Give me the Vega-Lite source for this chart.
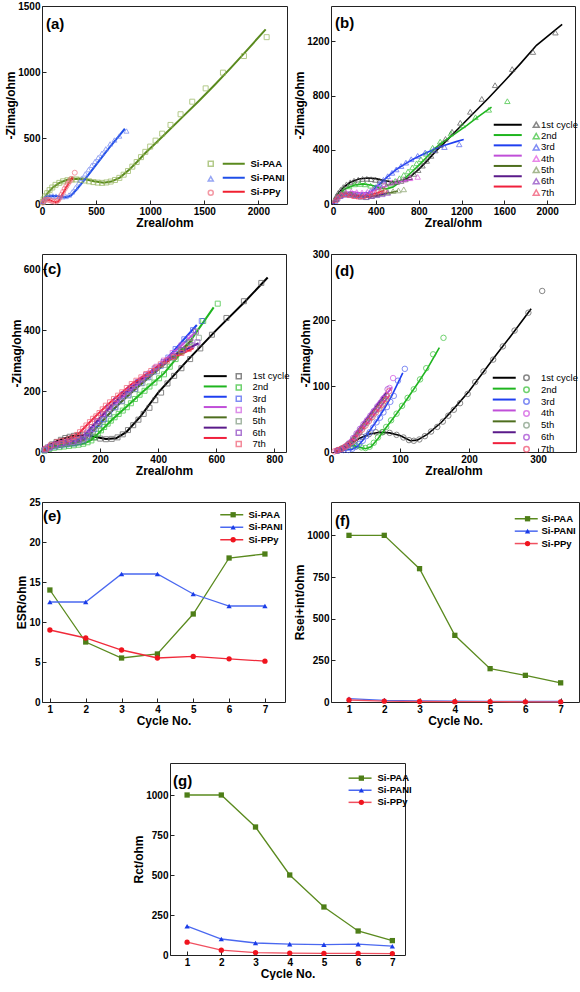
{
"$schema":"https://vega.github.io/schema/vega-lite/v6.json",
"background":"white",
"padding":{"left":4,"top":0,"right":0,"bottom":0},
"config":{
 "font":"Liberation Sans",
 "view":{"stroke":"#222","strokeWidth":1},
 "axis":{"grid":false,"domain":false,"labelFont":"Liberation Sans","labelFontWeight":"bold","labelFontSize":10,"labelColor":"#000","titleFont":"Liberation Sans","titleFontWeight":"bold","titleFontSize":12,"titleColor":"#000","tickColor":"#222","tickSize":-4,"labelPadding":6,"labelFlush":false,"labelOverlap":false,"tickCount":20,"format":"d"},
 "axisX":{"titlePadding":1},
 "axisY":{"titlePadding":0},
 "legend":{"orient":"none","title":null,"padding":0,"labelFont":"Liberation Sans","labelColor":"#000","labelFontSize":9.5},
 "title":{"anchor":"start","frame":"group","orient":"top","baseline":"top","offset":0,"fontSize":15,"fontWeight":"bold","color":"#000"}
},
"datasets":{
"aL":[
{"s":"Si-PAA","x":0,"y":0},{"s":"Si-PAA","x":20,"y":40},{"s":"Si-PAA","x":50,"y":80},{"s":"Si-PAA","x":100,"y":125},{"s":"Si-PAA","x":160,"y":160},{"s":"Si-PAA","x":240,"y":185},{"s":"Si-PAA","x":320,"y":192},{"s":"Si-PAA","x":400,"y":187},{"s":"Si-PAA","x":480,"y":172},{"s":"Si-PAA","x":571,"y":161},{"s":"Si-PAA","x":640,"y":170},{"s":"Si-PAA","x":720,"y":200},{"s":"Si-PAA","x":800,"y":255},{"s":"Si-PAA","x":880,"y":320},{"s":"Si-PAA","x":960,"y":390},{"s":"Si-PAA","x":1050,"y":460},{"s":"Si-PAA","x":1150,"y":540},{"s":"Si-PAA","x":1300,"y":660},{"s":"Si-PAA","x":1450,"y":780},{"s":"Si-PAA","x":1600,"y":905},{"s":"Si-PAA","x":1750,"y":1035},{"s":"Si-PAA","x":1900,"y":1170},{"s":"Si-PAA","x":2068,"y":1323},
{"s":"Si-PANI","x":0,"y":0},{"s":"Si-PANI","x":15,"y":35},{"s":"Si-PANI","x":40,"y":55},{"s":"Si-PANI","x":80,"y":62},{"s":"Si-PANI","x":130,"y":60},{"s":"Si-PANI","x":180,"y":54},{"s":"Si-PANI","x":230,"y":52},{"s":"Si-PANI","x":270,"y":65},{"s":"Si-PANI","x":320,"y":110},{"s":"Si-PANI","x":400,"y":190},{"s":"Si-PANI","x":480,"y":275},{"s":"Si-PANI","x":560,"y":360},{"s":"Si-PANI","x":640,"y":445},{"s":"Si-PANI","x":710,"y":515},{"s":"Si-PANI","x":766,"y":570},
{"s":"Si-PPy","x":0,"y":0},{"s":"Si-PPy","x":15,"y":22},{"s":"Si-PPy","x":40,"y":33},{"s":"Si-PPy","x":70,"y":30},{"s":"Si-PPy","x":100,"y":20},{"s":"Si-PPy","x":130,"y":14},{"s":"Si-PPy","x":150,"y":20},{"s":"Si-PPy","x":170,"y":45},{"s":"Si-PPy","x":200,"y":90},{"s":"Si-PPy","x":230,"y":135},{"s":"Si-PPy","x":260,"y":175},{"s":"Si-PPy","x":284,"y":207}
],
"aP":[
{"s":"Si-PAA","x":2077,"y":1264},{"s":"Si-PAA","x":1867,"y":1121},{"s":"Si-PAA","x":1673,"y":995},{"s":"Si-PAA","x":1513,"y":876},{"s":"Si-PAA","x":1389,"y":775},{"s":"Si-PAA","x":1281,"y":680},{"s":"Si-PAA","x":1188,"y":599},{"s":"Si-PAA","x":1111,"y":533},{"s":"Si-PAA","x":1050,"y":480},{"s":"Si-PAA","x":1000,"y":435},{"s":"Si-PAA","x":955,"y":395},{"s":"Si-PAA","x":915,"y":355},{"s":"Si-PAA","x":875,"y":318},{"s":"Si-PAA","x":835,"y":283},{"s":"Si-PAA","x":795,"y":250},{"s":"Si-PAA","x":755,"y":222},{"s":"Si-PAA","x":715,"y":198},{"s":"Si-PAA","x":675,"y":182},{"s":"Si-PAA","x":635,"y":170},{"s":"Si-PAA","x":595,"y":163},{"s":"Si-PAA","x":555,"y":160},{"s":"Si-PAA","x":515,"y":162},{"s":"Si-PAA","x":475,"y":166},{"s":"Si-PAA","x":435,"y":172},{"s":"Si-PAA","x":395,"y":178},{"s":"Si-PAA","x":355,"y":183},{"s":"Si-PAA","x":315,"y":186},{"s":"Si-PAA","x":275,"y":185},{"s":"Si-PAA","x":235,"y":180},{"s":"Si-PAA","x":195,"y":172},{"s":"Si-PAA","x":160,"y":160},{"s":"Si-PAA","x":125,"y":145},{"s":"Si-PAA","x":95,"y":125},{"s":"Si-PAA","x":70,"y":105},{"s":"Si-PAA","x":48,"y":82},{"s":"Si-PAA","x":30,"y":58},{"s":"Si-PAA","x":16,"y":35},{"s":"Si-PAA","x":7,"y":15},
{"s":"Si-PANI","x":10,"y":20},{"s":"Si-PANI","x":25,"y":40},{"s":"Si-PANI","x":45,"y":55},{"s":"Si-PANI","x":70,"y":60},{"s":"Si-PANI","x":100,"y":62},{"s":"Si-PANI","x":130,"y":60},{"s":"Si-PANI","x":160,"y":57},{"s":"Si-PANI","x":190,"y":55},{"s":"Si-PANI","x":220,"y":57},{"s":"Si-PANI","x":250,"y":68},{"s":"Si-PANI","x":280,"y":92},{"s":"Si-PANI","x":310,"y":125},{"s":"Si-PANI","x":340,"y":160},{"s":"Si-PANI","x":370,"y":195},{"s":"Si-PANI","x":400,"y":228},{"s":"Si-PANI","x":430,"y":260},{"s":"Si-PANI","x":460,"y":292},{"s":"Si-PANI","x":490,"y":322},{"s":"Si-PANI","x":520,"y":352},{"s":"Si-PANI","x":555,"y":385},{"s":"Si-PANI","x":590,"y":418},{"s":"Si-PANI","x":630,"y":455},{"s":"Si-PANI","x":670,"y":485},{"s":"Si-PANI","x":715,"y":515},{"s":"Si-PANI","x":781,"y":553},
{"s":"Si-PPy","x":8,"y":10},{"s":"Si-PPy","x":20,"y":25},{"s":"Si-PPy","x":35,"y":32},{"s":"Si-PPy","x":55,"y":33},{"s":"Si-PPy","x":75,"y":28},{"s":"Si-PPy","x":95,"y":22},{"s":"Si-PPy","x":115,"y":18},{"s":"Si-PPy","x":135,"y":20},{"s":"Si-PPy","x":150,"y":30},{"s":"Si-PPy","x":165,"y":48},{"s":"Si-PPy","x":180,"y":70},{"s":"Si-PPy","x":195,"y":92},{"s":"Si-PPy","x":210,"y":115},{"s":"Si-PPy","x":225,"y":135},{"s":"Si-PPy","x":240,"y":155},{"s":"Si-PPy","x":255,"y":172},{"s":"Si-PPy","x":270,"y":190},{"s":"Si-PPy","x":303,"y":237}
],
"bL":[
{"s":"1st cycle","x":0,"y":0},{"s":"1st cycle","x":20,"y":40},{"s":"1st cycle","x":50,"y":80},{"s":"1st cycle","x":100,"y":125},{"s":"1st cycle","x":160,"y":160},{"s":"1st cycle","x":240,"y":185},{"s":"1st cycle","x":320,"y":192},{"s":"1st cycle","x":400,"y":187},{"s":"1st cycle","x":480,"y":172},{"s":"1st cycle","x":571,"y":161},{"s":"1st cycle","x":640,"y":170},{"s":"1st cycle","x":720,"y":200},{"s":"1st cycle","x":800,"y":255},{"s":"1st cycle","x":880,"y":320},{"s":"1st cycle","x":960,"y":390},{"s":"1st cycle","x":1050,"y":460},{"s":"1st cycle","x":1150,"y":540},{"s":"1st cycle","x":1300,"y":660},{"s":"1st cycle","x":1450,"y":780},{"s":"1st cycle","x":1600,"y":905},{"s":"1st cycle","x":1750,"y":1035},{"s":"1st cycle","x":1900,"y":1170},{"s":"1st cycle","x":2140,"y":1325},
{"s":"2nd","x":0,"y":0},{"s":"2nd","x":30,"y":45},{"s":"2nd","x":70,"y":85},{"s":"2nd","x":120,"y":115},{"s":"2nd","x":200,"y":140},{"s":"2nd","x":280,"y":148},{"s":"2nd","x":360,"y":138},{"s":"2nd","x":440,"y":120},{"s":"2nd","x":500,"y":112},{"s":"2nd","x":560,"y":125},{"s":"2nd","x":640,"y":170},{"s":"2nd","x":720,"y":225},{"s":"2nd","x":800,"y":285},{"s":"2nd","x":880,"y":350},{"s":"2nd","x":950,"y":410},{"s":"2nd","x":1050,"y":470},{"s":"2nd","x":1150,"y":525},{"s":"2nd","x":1250,"y":580},{"s":"2nd","x":1350,"y":640},{"s":"2nd","x":1480,"y":715},
{"s":"3rd","x":0,"y":0},{"s":"3rd","x":30,"y":40},{"s":"3rd","x":80,"y":65},{"s":"3rd","x":150,"y":72},{"s":"3rd","x":230,"y":62},{"s":"3rd","x":300,"y":65},{"s":"3rd","x":370,"y":100},{"s":"3rd","x":440,"y":150},{"s":"3rd","x":520,"y":210},{"s":"3rd","x":600,"y":260},{"s":"3rd","x":680,"y":300},{"s":"3rd","x":760,"y":335},{"s":"3rd","x":850,"y":370},{"s":"3rd","x":950,"y":405},{"s":"3rd","x":1050,"y":435},{"s":"3rd","x":1150,"y":460},{"s":"3rd","x":1220,"y":475},
{"s":"4th","x":0,"y":0},{"s":"4th","x":40,"y":60},{"s":"4th","x":100,"y":85},{"s":"4th","x":180,"y":90},{"s":"4th","x":260,"y":80},{"s":"4th","x":330,"y":85},{"s":"4th","x":420,"y":110},{"s":"4th","x":520,"y":140},{"s":"4th","x":620,"y":165},{"s":"4th","x":744,"y":182},
{"s":"5th","x":0,"y":0},{"s":"5th","x":40,"y":55},{"s":"5th","x":100,"y":75},{"s":"5th","x":170,"y":80},{"s":"5th","x":240,"y":65},{"s":"5th","x":300,"y":50},{"s":"5th","x":380,"y":60},{"s":"5th","x":460,"y":75},{"s":"5th","x":540,"y":85},{"s":"5th","x":605,"y":96},
{"s":"6th","x":0,"y":0},{"s":"6th","x":40,"y":50},{"s":"6th","x":100,"y":70},{"s":"6th","x":170,"y":70},{"s":"6th","x":250,"y":55},{"s":"6th","x":330,"y":50},{"s":"6th","x":420,"y":60},{"s":"6th","x":500,"y":78},
{"s":"7th","x":0,"y":0},{"s":"7th","x":20,"y":40},{"s":"7th","x":60,"y":70},{"s":"7th","x":120,"y":75},{"s":"7th","x":180,"y":60},{"s":"7th","x":240,"y":55},{"s":"7th","x":300,"y":60},{"s":"7th","x":360,"y":70},{"s":"7th","x":420,"y":85},{"s":"7th","x":480,"y":100}
],
"bP":[
{"s":"1st cycle","x":2077,"y":1264},{"s":"1st cycle","x":1867,"y":1121},{"s":"1st cycle","x":1673,"y":995},{"s":"1st cycle","x":1513,"y":876},{"s":"1st cycle","x":1389,"y":775},{"s":"1st cycle","x":1281,"y":680},{"s":"1st cycle","x":1188,"y":599},{"s":"1st cycle","x":1111,"y":533},{"s":"1st cycle","x":1050,"y":480},{"s":"1st cycle","x":1000,"y":435},{"s":"1st cycle","x":955,"y":395},{"s":"1st cycle","x":915,"y":355},{"s":"1st cycle","x":875,"y":318},{"s":"1st cycle","x":835,"y":283},{"s":"1st cycle","x":795,"y":250},{"s":"1st cycle","x":755,"y":222},{"s":"1st cycle","x":715,"y":198},{"s":"1st cycle","x":675,"y":182},{"s":"1st cycle","x":635,"y":170},{"s":"1st cycle","x":595,"y":163},{"s":"1st cycle","x":555,"y":160},{"s":"1st cycle","x":515,"y":162},{"s":"1st cycle","x":475,"y":166},{"s":"1st cycle","x":435,"y":172},{"s":"1st cycle","x":395,"y":178},{"s":"1st cycle","x":355,"y":183},{"s":"1st cycle","x":315,"y":186},{"s":"1st cycle","x":275,"y":185},{"s":"1st cycle","x":235,"y":180},{"s":"1st cycle","x":195,"y":172},{"s":"1st cycle","x":160,"y":160},{"s":"1st cycle","x":125,"y":145},{"s":"1st cycle","x":95,"y":125},{"s":"1st cycle","x":70,"y":105},{"s":"1st cycle","x":48,"y":82},{"s":"1st cycle","x":30,"y":58},{"s":"1st cycle","x":16,"y":35},
{"s":"2nd","x":1628,"y":758},{"s":"2nd","x":1455,"y":695},{"s":"2nd","x":1330,"y":640},{"s":"2nd","x":1210,"y":580},{"s":"2nd","x":1100,"y":520},{"s":"2nd","x":1000,"y":460},{"s":"2nd","x":930,"y":415},{"s":"2nd","x":870,"y":370},{"s":"2nd","x":820,"y":330},{"s":"2nd","x":780,"y":300},{"s":"2nd","x":740,"y":270},{"s":"2nd","x":700,"y":240},{"s":"2nd","x":660,"y":215},{"s":"2nd","x":620,"y":190},{"s":"2nd","x":580,"y":170},{"s":"2nd","x":540,"y":150},{"s":"2nd","x":500,"y":130},{"s":"2nd","x":450,"y":120},{"s":"2nd","x":400,"y":125},{"s":"2nd","x":350,"y":135},{"s":"2nd","x":300,"y":145},{"s":"2nd","x":250,"y":148},{"s":"2nd","x":200,"y":145},{"s":"2nd","x":150,"y":130},{"s":"2nd","x":100,"y":105},{"s":"2nd","x":60,"y":70},{"s":"2nd","x":30,"y":35},
{"s":"3rd","x":1178,"y":440},{"s":"3rd","x":1040,"y":420},{"s":"3rd","x":940,"y":400},{"s":"3rd","x":860,"y":380},{"s":"3rd","x":790,"y":355},{"s":"3rd","x":730,"y":330},{"s":"3rd","x":680,"y":305},{"s":"3rd","x":635,"y":280},{"s":"3rd","x":590,"y":255},{"s":"3rd","x":550,"y":230},{"s":"3rd","x":510,"y":205},{"s":"3rd","x":470,"y":178},{"s":"3rd","x":430,"y":150},{"s":"3rd","x":390,"y":122},{"s":"3rd","x":350,"y":95},{"s":"3rd","x":310,"y":75},{"s":"3rd","x":270,"y":68},{"s":"3rd","x":230,"y":65},{"s":"3rd","x":190,"y":68},{"s":"3rd","x":150,"y":72},{"s":"3rd","x":110,"y":72},{"s":"3rd","x":70,"y":62},{"s":"3rd","x":40,"y":45},{"s":"3rd","x":18,"y":22},
{"s":"4th","x":790,"y":200},{"s":"4th","x":720,"y":190},{"s":"4th","x":660,"y":180},{"s":"4th","x":600,"y":170},{"s":"4th","x":540,"y":158},{"s":"4th","x":480,"y":145},{"s":"4th","x":420,"y":125},{"s":"4th","x":370,"y":105},{"s":"4th","x":320,"y":90},{"s":"4th","x":270,"y":85},{"s":"4th","x":220,"y":88},{"s":"4th","x":170,"y":92},{"s":"4th","x":120,"y":88},{"s":"4th","x":70,"y":75},{"s":"4th","x":35,"y":45},
{"s":"5th","x":660,"y":108},{"s":"5th","x":610,"y":100},{"s":"5th","x":560,"y":95},{"s":"5th","x":510,"y":88},{"s":"5th","x":460,"y":80},{"s":"5th","x":410,"y":70},{"s":"5th","x":360,"y":58},{"s":"5th","x":310,"y":50},{"s":"5th","x":260,"y":55},{"s":"5th","x":210,"y":65},{"s":"5th","x":160,"y":75},{"s":"5th","x":110,"y":75},{"s":"5th","x":65,"y":65},{"s":"5th","x":30,"y":40},
{"s":"6th","x":510,"y":82},{"s":"6th","x":460,"y":72},{"s":"6th","x":410,"y":65},{"s":"6th","x":360,"y":58},{"s":"6th","x":310,"y":52},{"s":"6th","x":260,"y":55},{"s":"6th","x":210,"y":62},{"s":"6th","x":160,"y":68},{"s":"6th","x":110,"y":68},{"s":"6th","x":65,"y":58},{"s":"6th","x":30,"y":35},
{"s":"7th","x":480,"y":105},{"s":"7th","x":440,"y":95},{"s":"7th","x":400,"y":85},{"s":"7th","x":360,"y":75},{"s":"7th","x":320,"y":65},{"s":"7th","x":280,"y":58},{"s":"7th","x":240,"y":55},{"s":"7th","x":200,"y":58},{"s":"7th","x":160,"y":65},{"s":"7th","x":120,"y":72},{"s":"7th","x":80,"y":70},{"s":"7th","x":45,"y":55},{"s":"7th","x":20,"y":30}
],
"cL":[
{"s":"1st cycle","x":0,"y":0},{"s":"1st cycle","x":30,"y":25},{"s":"1st cycle","x":60,"y":40},{"s":"1st cycle","x":100,"y":52},{"s":"1st cycle","x":140,"y":55},{"s":"1st cycle","x":180,"y":50},{"s":"1st cycle","x":220,"y":43},{"s":"1st cycle","x":255,"y":45},{"s":"1st cycle","x":290,"y":65},{"s":"1st cycle","x":340,"y":118},{"s":"1st cycle","x":400,"y":195},{"s":"1st cycle","x":500,"y":300},{"s":"1st cycle","x":600,"y":400},{"s":"1st cycle","x":700,"y":495},{"s":"1st cycle","x":777,"y":573},
{"s":"2nd","x":0,"y":0},{"s":"2nd","x":30,"y":12},{"s":"2nd","x":70,"y":18},{"s":"2nd","x":110,"y":22},{"s":"2nd","x":145,"y":28},{"s":"2nd","x":170,"y":40},{"s":"2nd","x":195,"y":62},{"s":"2nd","x":240,"y":105},{"s":"2nd","x":290,"y":148},{"s":"2nd","x":350,"y":200},{"s":"2nd","x":420,"y":258},{"s":"2nd","x":500,"y":350},{"s":"2nd","x":591,"y":475},
{"s":"3rd","x":0,"y":0},{"s":"3rd","x":20,"y":11},{"s":"3rd","x":64,"y":22},{"s":"3rd","x":109,"y":27},{"s":"3rd","x":142,"y":38},{"s":"3rd","x":164,"y":58},{"s":"3rd","x":198,"y":92},{"s":"3rd","x":231,"y":125},{"s":"3rd","x":276,"y":168},{"s":"3rd","x":320,"y":207},{"s":"3rd","x":364,"y":245},{"s":"3rd","x":409,"y":283},{"s":"3rd","x":470,"y":350},{"s":"3rd","x":533,"y":417},
{"s":"4th","x":0,"y":0},{"s":"4th","x":20,"y":14},{"s":"4th","x":60,"y":27},{"s":"4th","x":100,"y":32},{"s":"4th","x":135,"y":40},{"s":"4th","x":155,"y":60},{"s":"4th","x":190,"y":98},{"s":"4th","x":225,"y":135},{"s":"4th","x":270,"y":175},{"s":"4th","x":320,"y":215},{"s":"4th","x":370,"y":258},{"s":"4th","x":420,"y":300},{"s":"4th","x":480,"y":350},{"s":"4th","x":531,"y":396},
{"s":"5th","x":0,"y":0},{"s":"5th","x":25,"y":15},{"s":"5th","x":70,"y":25},{"s":"5th","x":110,"y":30},{"s":"5th","x":145,"y":40},{"s":"5th","x":170,"y":62},{"s":"5th","x":205,"y":98},{"s":"5th","x":245,"y":140},{"s":"5th","x":290,"y":180},{"s":"5th","x":340,"y":222},{"s":"5th","x":400,"y":270},{"s":"5th","x":460,"y":320},{"s":"5th","x":520,"y":370},
{"s":"6th","x":0,"y":0},{"s":"6th","x":25,"y":18},{"s":"6th","x":70,"y":30},{"s":"6th","x":110,"y":38},{"s":"6th","x":140,"y":48},{"s":"6th","x":160,"y":70},{"s":"6th","x":195,"y":108},{"s":"6th","x":235,"y":150},{"s":"6th","x":280,"y":190},{"s":"6th","x":330,"y":230},{"s":"6th","x":390,"y":275},{"s":"6th","x":450,"y":315},{"s":"6th","x":539,"y":357},
{"s":"7th","x":0,"y":0},{"s":"7th","x":14,"y":11},{"s":"7th","x":31,"y":22},{"s":"7th","x":53,"y":33},{"s":"7th","x":81,"y":38},{"s":"7th","x":109,"y":49},{"s":"7th","x":131,"y":65},{"s":"7th","x":153,"y":87},{"s":"7th","x":176,"y":109},{"s":"7th","x":198,"y":130},{"s":"7th","x":220,"y":150},{"s":"7th","x":248,"y":174},{"s":"7th","x":276,"y":196},{"s":"7th","x":309,"y":223},{"s":"7th","x":342,"y":245},{"s":"7th","x":376,"y":266},{"s":"7th","x":409,"y":288},{"s":"7th","x":460,"y":312},{"s":"7th","x":522,"y":341}
],
"cP":[
{"s":"1st cycle","x":8,"y":6},{"s":"1st cycle","x":20,"y":15},{"s":"1st cycle","x":35,"y":25},{"s":"1st cycle","x":50,"y":33},{"s":"1st cycle","x":65,"y":40},{"s":"1st cycle","x":80,"y":46},{"s":"1st cycle","x":95,"y":50},{"s":"1st cycle","x":110,"y":53},{"s":"1st cycle","x":125,"y":55},{"s":"1st cycle","x":142,"y":55},{"s":"1st cycle","x":160,"y":52},{"s":"1st cycle","x":180,"y":48},{"s":"1st cycle","x":200,"y":44},{"s":"1st cycle","x":220,"y":42},{"s":"1st cycle","x":240,"y":43},{"s":"1st cycle","x":260,"y":48},{"s":"1st cycle","x":278,"y":58},{"s":"1st cycle","x":296,"y":72},{"s":"1st cycle","x":314,"y":88},{"s":"1st cycle","x":332,"y":106},{"s":"1st cycle","x":350,"y":125},{"s":"1st cycle","x":370,"y":145},{"s":"1st cycle","x":390,"y":170},{"s":"1st cycle","x":410,"y":195},{"s":"1st cycle","x":432,"y":225},{"s":"1st cycle","x":455,"y":250},{"s":"1st cycle","x":480,"y":275},{"s":"1st cycle","x":510,"y":305},{"s":"1st cycle","x":545,"y":340},{"s":"1st cycle","x":585,"y":385},{"s":"1st cycle","x":635,"y":440},{"s":"1st cycle","x":695,"y":495},{"s":"1st cycle","x":755,"y":555},
{"s":"2nd","x":9,"y":5},{"s":"2nd","x":25,"y":10},{"s":"2nd","x":42,"y":14},{"s":"2nd","x":60,"y":16},{"s":"2nd","x":76,"y":18},{"s":"2nd","x":93,"y":20},{"s":"2nd","x":109,"y":22},{"s":"2nd","x":126,"y":24},{"s":"2nd","x":142,"y":27},{"s":"2nd","x":157,"y":32},{"s":"2nd","x":170,"y":38},{"s":"2nd","x":181,"y":48},{"s":"2nd","x":192,"y":60},{"s":"2nd","x":203,"y":71},{"s":"2nd","x":214,"y":82},{"s":"2nd","x":226,"y":93},{"s":"2nd","x":237,"y":103},{"s":"2nd","x":250,"y":114},{"s":"2nd","x":264,"y":125},{"s":"2nd","x":278,"y":136},{"s":"2nd","x":292,"y":147},{"s":"2nd","x":306,"y":160},{"s":"2nd","x":320,"y":174},{"s":"2nd","x":336,"y":188},{"s":"2nd","x":353,"y":201},{"s":"2nd","x":370,"y":215},{"s":"2nd","x":387,"y":228},{"s":"2nd","x":403,"y":242},{"s":"2nd","x":420,"y":255},{"s":"2nd","x":440,"y":280},{"s":"2nd","x":460,"y":305},{"s":"2nd","x":480,"y":330},{"s":"2nd","x":505,"y":360},{"s":"2nd","x":530,"y":395},{"s":"2nd","x":555,"y":430},{"s":"2nd","x":605,"y":487},
{"s":"3rd","x":10,"y":6},{"s":"3rd","x":25,"y":13},{"s":"3rd","x":45,"y":18},{"s":"3rd","x":64,"y":22},{"s":"3rd","x":85,"y":25},{"s":"3rd","x":109,"y":28},{"s":"3rd","x":126,"y":32},{"s":"3rd","x":142,"y":38},{"s":"3rd","x":155,"y":48},{"s":"3rd","x":164,"y":60},{"s":"3rd","x":180,"y":75},{"s":"3rd","x":198,"y":92},{"s":"3rd","x":214,"y":108},{"s":"3rd","x":231,"y":125},{"s":"3rd","x":253,"y":147},{"s":"3rd","x":276,"y":168},{"s":"3rd","x":298,"y":188},{"s":"3rd","x":320,"y":207},{"s":"3rd","x":342,"y":226},{"s":"3rd","x":364,"y":245},{"s":"3rd","x":386,"y":264},{"s":"3rd","x":409,"y":283},{"s":"3rd","x":435,"y":310},{"s":"3rd","x":460,"y":338},{"s":"3rd","x":490,"y":370},{"s":"3rd","x":520,"y":400},{"s":"3rd","x":550,"y":430},
{"s":"4th","x":10,"y":8},{"s":"4th","x":25,"y":16},{"s":"4th","x":45,"y":24},{"s":"4th","x":65,"y":28},{"s":"4th","x":85,"y":31},{"s":"4th","x":105,"y":33},{"s":"4th","x":125,"y":37},{"s":"4th","x":142,"y":44},{"s":"4th","x":155,"y":58},{"s":"4th","x":170,"y":75},{"s":"4th","x":190,"y":98},{"s":"4th","x":210,"y":120},{"s":"4th","x":230,"y":140},{"s":"4th","x":252,"y":160},{"s":"4th","x":275,"y":180},{"s":"4th","x":298,"y":198},{"s":"4th","x":320,"y":216},{"s":"4th","x":345,"y":238},{"s":"4th","x":370,"y":258},{"s":"4th","x":395,"y":280},{"s":"4th","x":420,"y":300},{"s":"4th","x":450,"y":325},{"s":"4th","x":480,"y":350},{"s":"4th","x":510,"y":375},{"s":"4th","x":530,"y":395},
{"s":"5th","x":12,"y":8},{"s":"5th","x":28,"y":15},{"s":"5th","x":48,"y":21},{"s":"5th","x":70,"y":25},{"s":"5th","x":90,"y":28},{"s":"5th","x":110,"y":31},{"s":"5th","x":128,"y":35},{"s":"5th","x":145,"y":41},{"s":"5th","x":160,"y":53},{"s":"5th","x":175,"y":68},{"s":"5th","x":192,"y":85},{"s":"5th","x":210,"y":104},{"s":"5th","x":230,"y":125},{"s":"5th","x":252,"y":146},{"s":"5th","x":275,"y":166},{"s":"5th","x":298,"y":185},{"s":"5th","x":322,"y":206},{"s":"5th","x":346,"y":226},{"s":"5th","x":370,"y":246},{"s":"5th","x":396,"y":265},{"s":"5th","x":422,"y":286},{"s":"5th","x":450,"y":308},{"s":"5th","x":480,"y":335},{"s":"5th","x":510,"y":360},{"s":"5th","x":540,"y":375},
{"s":"6th","x":12,"y":9},{"s":"6th","x":28,"y":18},{"s":"6th","x":48,"y":25},{"s":"6th","x":70,"y":30},{"s":"6th","x":90,"y":34},{"s":"6th","x":110,"y":38},{"s":"6th","x":128,"y":43},{"s":"6th","x":142,"y":50},{"s":"6th","x":156,"y":64},{"s":"6th","x":172,"y":82},{"s":"6th","x":190,"y":102},{"s":"6th","x":210,"y":125},{"s":"6th","x":232,"y":148},{"s":"6th","x":256,"y":170},{"s":"6th","x":280,"y":190},{"s":"6th","x":305,"y":210},{"s":"6th","x":330,"y":230},{"s":"6th","x":358,"y":252},{"s":"6th","x":388,"y":274},{"s":"6th","x":418,"y":295},{"s":"6th","x":450,"y":315},{"s":"6th","x":485,"y":335},{"s":"6th","x":515,"y":350},{"s":"6th","x":535,"y":360},
{"s":"7th","x":14,"y":11},{"s":"7th","x":31,"y":22},{"s":"7th","x":53,"y":33},{"s":"7th","x":67,"y":36},{"s":"7th","x":81,"y":38},{"s":"7th","x":95,"y":43},{"s":"7th","x":109,"y":49},{"s":"7th","x":120,"y":56},{"s":"7th","x":131,"y":65},{"s":"7th","x":142,"y":76},{"s":"7th","x":153,"y":87},{"s":"7th","x":165,"y":98},{"s":"7th","x":176,"y":109},{"s":"7th","x":187,"y":117},{"s":"7th","x":198,"y":128},{"s":"7th","x":209,"y":140},{"s":"7th","x":220,"y":152},{"s":"7th","x":234,"y":163},{"s":"7th","x":248,"y":174},{"s":"7th","x":262,"y":185},{"s":"7th","x":276,"y":196},{"s":"7th","x":292,"y":210},{"s":"7th","x":309,"y":223},{"s":"7th","x":325,"y":234},{"s":"7th","x":342,"y":245},{"s":"7th","x":359,"y":256},{"s":"7th","x":376,"y":266},{"s":"7th","x":392,"y":277},{"s":"7th","x":409,"y":288},{"s":"7th","x":430,"y":300},{"s":"7th","x":455,"y":312},{"s":"7th","x":480,"y":325},{"s":"7th","x":505,"y":338}
],
"dL":[
{"s":"1st cycle","x":10,"y":0},{"s":"1st cycle","x":18,"y":5},{"s":"1st cycle","x":28,"y":12},{"s":"1st cycle","x":40,"y":20},{"s":"1st cycle","x":55,"y":27},{"s":"1st cycle","x":70,"y":30},{"s":"1st cycle","x":85,"y":29},{"s":"1st cycle","x":100,"y":25},{"s":"1st cycle","x":115,"y":17},{"s":"1st cycle","x":125,"y":18},{"s":"1st cycle","x":140,"y":27},{"s":"1st cycle","x":160,"y":45},{"s":"1st cycle","x":180,"y":68},{"s":"1st cycle","x":200,"y":92},{"s":"1st cycle","x":220,"y":120},{"s":"1st cycle","x":240,"y":148},{"s":"1st cycle","x":260,"y":175},{"s":"1st cycle","x":290,"y":217},
{"s":"2nd","x":8,"y":0},{"s":"2nd","x":14,"y":4},{"s":"2nd","x":22,"y":8},{"s":"2nd","x":32,"y":10},{"s":"2nd","x":42,"y":7},{"s":"2nd","x":50,"y":5},{"s":"2nd","x":58,"y":8},{"s":"2nd","x":68,"y":20},{"s":"2nd","x":80,"y":37},{"s":"2nd","x":95,"y":58},{"s":"2nd","x":110,"y":80},{"s":"2nd","x":125,"y":103},{"s":"2nd","x":140,"y":127},{"s":"2nd","x":157,"y":158},
{"s":"3rd","x":8,"y":0},{"s":"3rd","x":14,"y":2},{"s":"3rd","x":20,"y":3},{"s":"3rd","x":30,"y":4},{"s":"3rd","x":38,"y":8},{"s":"3rd","x":48,"y":20},{"s":"3rd","x":58,"y":35},{"s":"3rd","x":68,"y":50},{"s":"3rd","x":78,"y":67},{"s":"3rd","x":88,"y":85},{"s":"3rd","x":104,"y":120},
{"s":"4th","x":6,"y":0},{"s":"4th","x":10,"y":2},{"s":"4th","x":15,"y":4},{"s":"4th","x":20,"y":6},{"s":"4th","x":28,"y":14},{"s":"4th","x":38,"y":28},{"s":"4th","x":48,"y":42},{"s":"4th","x":58,"y":56},{"s":"4th","x":68,"y":70},{"s":"4th","x":78,"y":84},{"s":"4th","x":88,"y":98},
{"s":"5th","x":6,"y":0},{"s":"5th","x":10,"y":2},{"s":"5th","x":15,"y":5},{"s":"5th","x":22,"y":8},{"s":"5th","x":30,"y":18},{"s":"5th","x":40,"y":32},{"s":"5th","x":50,"y":46},{"s":"5th","x":60,"y":60},{"s":"5th","x":70,"y":73},{"s":"5th","x":80,"y":85},
{"s":"6th","x":6,"y":0},{"s":"6th","x":10,"y":2},{"s":"6th","x":15,"y":5},{"s":"6th","x":22,"y":9},{"s":"6th","x":30,"y":20},{"s":"6th","x":40,"y":34},{"s":"6th","x":50,"y":48},{"s":"6th","x":60,"y":62},{"s":"6th","x":70,"y":76},{"s":"6th","x":80,"y":90},
{"s":"7th","x":5,"y":0},{"s":"7th","x":10,"y":3},{"s":"7th","x":15,"y":5},{"s":"7th","x":20,"y":7},{"s":"7th","x":25,"y":10},{"s":"7th","x":32,"y":18},{"s":"7th","x":40,"y":28},{"s":"7th","x":50,"y":40},{"s":"7th","x":60,"y":53},{"s":"7th","x":70,"y":66},{"s":"7th","x":80,"y":80},{"s":"7th","x":85,"y":86}
],
"dP":[
{"s":"1st cycle","x":12,"y":3},{"s":"1st cycle","x":18,"y":6},{"s":"1st cycle","x":25,"y":12},{"s":"1st cycle","x":35,"y":18},{"s":"1st cycle","x":45,"y":23},{"s":"1st cycle","x":55,"y":27},{"s":"1st cycle","x":65,"y":30},{"s":"1st cycle","x":75,"y":30},{"s":"1st cycle","x":85,"y":29},{"s":"1st cycle","x":95,"y":26},{"s":"1st cycle","x":105,"y":22},{"s":"1st cycle","x":113,"y":18},{"s":"1st cycle","x":120,"y":17},{"s":"1st cycle","x":128,"y":19},{"s":"1st cycle","x":136,"y":24},{"s":"1st cycle","x":145,"y":31},{"s":"1st cycle","x":154,"y":38},{"s":"1st cycle","x":162,"y":46},{"s":"1st cycle","x":170,"y":55},{"s":"1st cycle","x":178,"y":64},{"s":"1st cycle","x":187,"y":74},{"s":"1st cycle","x":198,"y":88},{"s":"1st cycle","x":209,"y":106},{"s":"1st cycle","x":221,"y":122},{"s":"1st cycle","x":235,"y":140},{"s":"1st cycle","x":249,"y":160},{"s":"1st cycle","x":266,"y":184},{"s":"1st cycle","x":286,"y":211},{"s":"1st cycle","x":306,"y":244},
{"s":"2nd","x":10,"y":2},{"s":"2nd","x":15,"y":5},{"s":"2nd","x":22,"y":8},{"s":"2nd","x":30,"y":10},{"s":"2nd","x":37,"y":9},{"s":"2nd","x":44,"y":7},{"s":"2nd","x":50,"y":6},{"s":"2nd","x":56,"y":8},{"s":"2nd","x":62,"y":14},{"s":"2nd","x":68,"y":22},{"s":"2nd","x":74,"y":30},{"s":"2nd","x":80,"y":38},{"s":"2nd","x":87,"y":48},{"s":"2nd","x":95,"y":58},{"s":"2nd","x":103,"y":70},{"s":"2nd","x":111,"y":82},{"s":"2nd","x":120,"y":95},{"s":"2nd","x":129,"y":110},{"s":"2nd","x":138,"y":127},{"s":"2nd","x":148,"y":148},{"s":"2nd","x":163,"y":173},
{"s":"3rd","x":10,"y":2},{"s":"3rd","x":18,"y":3},{"s":"3rd","x":25,"y":3},{"s":"3rd","x":31,"y":5},{"s":"3rd","x":36,"y":8},{"s":"3rd","x":41,"y":12},{"s":"3rd","x":46,"y":17},{"s":"3rd","x":51,"y":24},{"s":"3rd","x":56,"y":30},{"s":"3rd","x":61,"y":37},{"s":"3rd","x":66,"y":45},{"s":"3rd","x":71,"y":52},{"s":"3rd","x":76,"y":60},{"s":"3rd","x":81,"y":68},{"s":"3rd","x":86,"y":76},{"s":"3rd","x":91,"y":85},{"s":"3rd","x":97,"y":108},{"s":"3rd","x":107,"y":126},
{"s":"4th","x":8,"y":2},{"s":"4th","x":14,"y":4},{"s":"4th","x":20,"y":7},{"s":"4th","x":25,"y":11},{"s":"4th","x":30,"y":16},{"s":"4th","x":35,"y":22},{"s":"4th","x":40,"y":30},{"s":"4th","x":45,"y":37},{"s":"4th","x":50,"y":44},{"s":"4th","x":55,"y":51},{"s":"4th","x":60,"y":58},{"s":"4th","x":65,"y":64},{"s":"4th","x":70,"y":72},{"s":"4th","x":75,"y":80},{"s":"4th","x":80,"y":86},{"s":"4th","x":85,"y":97},{"s":"4th","x":90,"y":112},
{"s":"5th","x":9,"y":2},{"s":"5th","x":16,"y":5},{"s":"5th","x":22,"y":8},{"s":"5th","x":27,"y":12},{"s":"5th","x":32,"y":18},{"s":"5th","x":37,"y":24},{"s":"5th","x":42,"y":31},{"s":"5th","x":47,"y":38},{"s":"5th","x":52,"y":44},{"s":"5th","x":57,"y":51},{"s":"5th","x":62,"y":57},{"s":"5th","x":67,"y":64},{"s":"5th","x":72,"y":70},{"s":"5th","x":77,"y":77},{"s":"5th","x":82,"y":84},
{"s":"6th","x":9,"y":2},{"s":"6th","x":16,"y":5},{"s":"6th","x":22,"y":9},{"s":"6th","x":27,"y":14},{"s":"6th","x":32,"y":21},{"s":"6th","x":37,"y":28},{"s":"6th","x":42,"y":35},{"s":"6th","x":47,"y":42},{"s":"6th","x":52,"y":48},{"s":"6th","x":57,"y":55},{"s":"6th","x":62,"y":62},{"s":"6th","x":67,"y":69},{"s":"6th","x":72,"y":75},{"s":"6th","x":77,"y":82},{"s":"6th","x":82,"y":95},
{"s":"7th","x":5,"y":1},{"s":"7th","x":10,"y":3},{"s":"7th","x":15,"y":5},{"s":"7th","x":20,"y":8},{"s":"7th","x":25,"y":11},{"s":"7th","x":30,"y":15},{"s":"7th","x":35,"y":21},{"s":"7th","x":40,"y":28},{"s":"7th","x":45,"y":34},{"s":"7th","x":50,"y":40},{"s":"7th","x":55,"y":47},{"s":"7th","x":60,"y":53},{"s":"7th","x":65,"y":60},{"s":"7th","x":70,"y":66},{"s":"7th","x":75,"y":72},{"s":"7th","x":80,"y":80},{"s":"7th","x":84,"y":92}
],
"e":[
{"s":"Si-PAA","c":1,"v":14},{"s":"Si-PAA","c":2,"v":7.5},{"s":"Si-PAA","c":3,"v":5.5},{"s":"Si-PAA","c":4,"v":6},{"s":"Si-PAA","c":5,"v":11},{"s":"Si-PAA","c":6,"v":18},{"s":"Si-PAA","c":7,"v":18.5},
{"s":"Si-PANI","c":1,"v":12.5},{"s":"Si-PANI","c":2,"v":12.5},{"s":"Si-PANI","c":3,"v":16},{"s":"Si-PANI","c":4,"v":16},{"s":"Si-PANI","c":5,"v":13.5},{"s":"Si-PANI","c":6,"v":12},{"s":"Si-PANI","c":7,"v":12},
{"s":"Si-PPy","c":1,"v":9},{"s":"Si-PPy","c":2,"v":8},{"s":"Si-PPy","c":3,"v":6.5},{"s":"Si-PPy","c":4,"v":5.5},{"s":"Si-PPy","c":5,"v":5.7},{"s":"Si-PPy","c":6,"v":5.4},{"s":"Si-PPy","c":7,"v":5.1}
],
"f":[
{"s":"Si-PAA","c":1,"v":1000},{"s":"Si-PAA","c":2,"v":1000},{"s":"Si-PAA","c":3,"v":800},{"s":"Si-PAA","c":4,"v":400},{"s":"Si-PAA","c":5,"v":200},{"s":"Si-PAA","c":6,"v":160},{"s":"Si-PAA","c":7,"v":115},
{"s":"Si-PANI","c":1,"v":20},{"s":"Si-PANI","c":2,"v":10},{"s":"Si-PANI","c":3,"v":7},{"s":"Si-PANI","c":4,"v":5},{"s":"Si-PANI","c":5,"v":4},{"s":"Si-PANI","c":6,"v":4},{"s":"Si-PANI","c":7,"v":3},
{"s":"Si-PPy","c":1,"v":12},{"s":"Si-PPy","c":2,"v":5},{"s":"Si-PPy","c":3,"v":3},{"s":"Si-PPy","c":4,"v":2},{"s":"Si-PPy","c":5,"v":2},{"s":"Si-PPy","c":6,"v":1},{"s":"Si-PPy","c":7,"v":1}
],
"g":[
{"s":"Si-PAA","c":1,"v":1000},{"s":"Si-PAA","c":2,"v":1000},{"s":"Si-PAA","c":3,"v":800},{"s":"Si-PAA","c":4,"v":500},{"s":"Si-PAA","c":5,"v":300},{"s":"Si-PAA","c":6,"v":150},{"s":"Si-PAA","c":7,"v":90},
{"s":"Si-PANI","c":1,"v":180},{"s":"Si-PANI","c":2,"v":100},{"s":"Si-PANI","c":3,"v":75},{"s":"Si-PANI","c":4,"v":68},{"s":"Si-PANI","c":5,"v":65},{"s":"Si-PANI","c":6,"v":68},{"s":"Si-PANI","c":7,"v":55},
{"s":"Si-PPy","c":1,"v":80},{"s":"Si-PPy","c":2,"v":30},{"s":"Si-PPy","c":3,"v":15},{"s":"Si-PPy","c":4,"v":12},{"s":"Si-PPy","c":5,"v":10},{"s":"Si-PPy","c":6,"v":10},{"s":"Si-PPy","c":7,"v":9}
]
},
"spacing":35,
"resolve":{"scale":{"x":"independent","y":"independent","color":"independent","stroke":"independent","shape":"independent"},"legend":{"color":"independent","stroke":"independent","shape":"independent"}},
"vconcat":[
{"columns":2,
"bounds":"flush",
"spacing":{"row":50,"column":44},
"resolve":{"scale":{"x":"independent","y":"independent","color":"independent","stroke":"independent","shape":"independent"},"legend":{"color":"independent","stroke":"independent","shape":"independent"}},
"concat":[
  {"width":245,"height":198,"title":{"text":"(a)","dx":4,"dy":34.5},
   "layer":[
    {"data":{"name":"aL"},"mark":{"type":"line","strokeWidth":2},
     "encoding":{
      "x":{"field":"x","type":"quantitative","scale":{"domain":[0,2265],"nice":false,"zero":false},"axis":{"values":[0,500,1000,1500,2000],"tickCount":20,"title":"Zreal/ohm"}},
      "y":{"field":"y","type":"quantitative","scale":{"domain":[0,1500],"nice":false},"axis":{"values":[0,500,1000,1500],"tickCount":20,"title":"-Zimag/ohm"}},
      "stroke":{"field":"s","type":"nominal","scale":{"domain":["Si-PAA","Si-PANI","Si-PPy"],"range":["#5a8a1e","#1f4fe8","#f02030"]},"legend":{"legendX":187,"legendY":153,"symbolType":"M-3.67,0H3.67","symbolSize":36,"symbolStrokeWidth":2,"labelFontWeight":"bold","labelOffset":12,"rowPadding":3}}}},
    {"data":{"name":"aP"},"mark":{"type":"point","filled":false,"size":25,"strokeWidth":1},
     "encoding":{
      "x":{"field":"x","type":"quantitative"},
      "y":{"field":"y","type":"quantitative"},
      "color":{"field":"s","type":"nominal","scale":{"range":["#94b45a","#6a80f0","#f07080"]},"legend":{"legendX":164,"legendY":153,"symbolSize":25,"labelFontWeight":"bold","labelExpr":"''","rowPadding":3}},
      "shape":{"field":"s","type":"nominal","scale":{"range":["square","triangle-up","circle"]},"legend":{"legendX":164,"legendY":153,"symbolSize":25,"labelFontWeight":"bold","labelExpr":"''","rowPadding":3}}}}
   ]},
  {"width":244,"height":198,"title":{"text":"(b)","dx":4,"dy":29},
   "layer":[
    {"data":{"name":"bL"},"mark":{"type":"line","strokeWidth":1.6},
     "encoding":{
      "x":{"field":"x","type":"quantitative","scale":{"domain":[-20,2260],"nice":false,"zero":false},"axis":{"values":[0,400,800,1200,1600,2000],"tickCount":20,"title":"Zreal/ohm"}},
      "y":{"field":"y","type":"quantitative","scale":{"domain":[0,1460],"nice":false},"axis":{"values":[0,400,800,1200],"tickCount":20,"title":"-Zimag/ohm"}},
      "stroke":{"field":"s","type":"nominal","scale":{"domain":["1st cycle","2nd","3rd","4th","5th","6th","7th"],"range":["#000000","#1fb51f","#1f3ff0","#c04fd8","#4e6e1e","#5a1a8a","#f0203c"]},"legend":{"legendX":172,"legendY":114,"symbolType":"M-4.67,0H4.67","symbolSize":36,"symbolStrokeWidth":2,"labelExpr":"''","rowPadding":-0.7}}}},
    {"data":{"name":"bP"},"mark":{"type":"point","filled":false,"shape":"triangle-up","size":30,"strokeWidth":1},
     "encoding":{
      "x":{"field":"x","type":"quantitative"},
      "y":{"field":"y","type":"quantitative"},
      "color":{"field":"s","type":"nominal","scale":{"range":["#555555","#33c033","#4a5cf0","#e055e0","#7f9a60","#8a40c0","#f04a6a"]},"legend":{"legendX":200.5,"legendY":114,"symbolType":"triangle-up","symbolSize":36,"labelOffset":0,"rowPadding":-0.7}}}}
   ]},
  {"width":244,"height":198,"title":{"text":"(c)","dx":1,"dy":27},
   "layer":[
    {"data":{"name":"cL"},"mark":{"type":"line","strokeWidth":2},
     "encoding":{
      "x":{"field":"x","type":"quantitative","scale":{"domain":[0,840],"nice":false},"axis":{"values":[0,200,400,600,800],"tickCount":20,"title":"Zreal/ohm"}},
      "y":{"field":"y","type":"quantitative","scale":{"domain":[0,650],"nice":false},"axis":{"values":[0,200,400,600],"tickCount":20,"title":"-Zimag/ohm"}},
      "stroke":{"field":"s","type":"nominal","scale":{"domain":["1st cycle","2nd","3rd","4th","5th","6th","7th"],"range":["#000000","#1fb51f","#1f3ff0","#c04fd8","#4e6e1e","#5a1a8a","#f0203c"]},"legend":{"legendX":168.5,"legendY":117.4,"symbolType":"M-3.83,0H3.83","symbolSize":36,"symbolStrokeWidth":2,"labelExpr":"''","rowPadding":-0.7}}}},
    {"data":{"name":"cP"},"mark":{"type":"point","filled":false,"shape":"square","size":25,"strokeWidth":1},
     "encoding":{
      "x":{"field":"x","type":"quantitative"},
      "y":{"field":"y","type":"quantitative"},
      "color":{"field":"s","type":"nominal","scale":{"range":["#555555","#33c033","#4a5cf0","#d060e0","#7f9a80","#8a40c0","#f05a70"]},"legend":{"legendX":192,"legendY":117.4,"symbolType":"square","symbolSize":25,"labelOffset":9,"rowPadding":-0.7}}}}
   ]},
  {"width":245,"height":198,"title":{"text":"(d)","dx":4,"dy":34},
   "layer":[
    {"data":{"name":"dL"},"mark":{"type":"line","strokeWidth":1.6},
     "encoding":{
      "x":{"field":"x","type":"quantitative","scale":{"domain":[0,355],"nice":false},"axis":{"values":[0,100,200,300],"tickCount":20,"title":"Zreal/ohm"}},
      "y":{"field":"y","type":"quantitative","scale":{"domain":[0,300],"nice":false},"axis":{"values":[0,100,200,300],"tickCount":20,"title":"-Zimag/ohm"}},
      "stroke":{"field":"s","type":"nominal","scale":{"domain":["1st cycle","2nd","3rd","4th","5th","6th","7th"],"range":["#000000","#1fb51f","#1f3ff0","#c04fd8","#4e6e1e","#5a1a8a","#f0203c"]},"legend":{"legendX":168.5,"legendY":119,"symbolType":"M-3.83,0H3.83","symbolSize":36,"symbolStrokeWidth":2,"labelExpr":"''","rowPadding":-0.1}}}},
    {"data":{"name":"dP"},"mark":{"type":"point","filled":false,"shape":"circle","size":30,"strokeWidth":1},
     "encoding":{
      "x":{"field":"x","type":"quantitative"},
      "y":{"field":"y","type":"quantitative"},
      "color":{"field":"s","type":"nominal","scale":{"range":["#555555","#33c033","#4a5cf0","#d050e0","#7f9a80","#a040d0","#f04a6a"]},"legend":{"legendX":190.75,"legendY":119,"symbolType":"circle","symbolSize":30,"labelOffset":9.75,"rowPadding":-0.1}}}}
   ]},
  {"width":243,"height":200,"title":{"text":"(e)","dx":1,"dy":31},
   "layer":[
    {"data":{"name":"e"},"mark":{"type":"line","strokeWidth":1.3},
     "encoding":{
      "x":{"field":"c","type":"quantitative","scale":{"domain":[0.78,7.56],"nice":false,"zero":false},"axis":{"values":[1,2,3,4,5,6,7],"tickCount":20,"title":"Cycle No."}},
      "y":{"field":"v","type":"quantitative","scale":{"domain":[0,25],"nice":false},"axis":{"values":[0,5,10,15,20,25],"tickCount":20,"title":"ESR/ohm"}},
      "stroke":{"field":"s","type":"nominal","scale":{"domain":["Si-PAA","Si-PANI","Si-PPy"],"range":["#5a8a1e","#4a68f0","#f02a3a"]},"legend":{"legendX":185,"legendY":8,"symbolType":"M-3.83,0H3.83","symbolSize":36,"symbolStrokeWidth":1.5,"labelFontWeight":"bold","labelOffset":12,"rowPadding":1.5}}}},
    {"data":{"name":"e"},"mark":{"type":"point","filled":true,"opacity":1,"size":28},
     "encoding":{
      "x":{"field":"c","type":"quantitative"},
      "y":{"field":"v","type":"quantitative"},
      "color":{"field":"s","type":"nominal","scale":{"range":["#4e7e18","#1a3ce8","#f0141e"]},"legend":{"legendX":186.4,"legendY":8,"symbolSize":28,"labelFontWeight":"bold","labelExpr":"''","rowPadding":1.5}},
      "shape":{"field":"s","type":"nominal","scale":{"range":["square","triangle-up","circle"]},"legend":{"legendX":186.4,"legendY":8,"symbolSize":28,"labelFontWeight":"bold","labelExpr":"''","rowPadding":1.5}}}}
   ]},
  {"width":248,"height":200,"title":{"text":"(f)","dx":4,"dy":31},
   "layer":[
    {"data":{"name":"f"},"mark":{"type":"line","strokeWidth":1.3},
     "encoding":{
      "x":{"field":"c","type":"quantitative","scale":{"domain":[0.49,7.52],"nice":false,"zero":false},"axis":{"values":[1,2,3,4,5,6,7],"tickCount":20,"title":"Cycle No."}},
      "y":{"field":"v","type":"quantitative","scale":{"domain":[0,1200],"nice":false},"axis":{"values":[0,250,500,750,1000],"tickCount":20,"title":"Rsei+int/ohm"}},
      "stroke":{"field":"s","type":"nominal","scale":{"domain":["Si-PAA","Si-PANI","Si-PPy"],"range":["#5a8a1e","#4a68f0","#f05060"]},"legend":{"legendX":190.5,"legendY":12,"symbolType":"M-3.83,0H3.83","symbolSize":36,"symbolStrokeWidth":1.5,"labelFontWeight":"bold","labelOffset":10.5,"rowPadding":1.4}}}},
    {"data":{"name":"f"},"mark":{"type":"point","filled":true,"opacity":1,"size":28},
     "encoding":{
      "x":{"field":"c","type":"quantitative"},
      "y":{"field":"v","type":"quantitative"},
      "color":{"field":"s","type":"nominal","scale":{"range":["#4e7e18","#1a3ce8","#f0141e"]},"legend":{"legendX":191.8,"legendY":12,"symbolSize":28,"labelFontWeight":"bold","labelExpr":"''","rowPadding":1.4}},
      "shape":{"field":"s","type":"nominal","scale":{"range":["square","triangle-up","circle"]},"legend":{"legendX":191.8,"legendY":12,"symbolSize":28,"labelFontWeight":"bold","labelExpr":"''","rowPadding":1.4}}}}
   ]}
]},
{"bounds":"flush","spacing":44,
 "resolve":{"scale":{"x":"independent","y":"independent","color":"independent","stroke":"independent","shape":"independent"},"legend":{"color":"independent","stroke":"independent","shape":"independent"}},
 "hconcat":[
 {"width":84,"height":192,"data":{"values":[]},"mark":"point","view":{"stroke":null}},
 {"width":235,"height":192,"title":{"text":"(g)","dx":3,"dy":30},
  "layer":[
   {"data":{"name":"g"},"mark":{"type":"line","strokeWidth":1.3},
    "encoding":{
     "x":{"field":"c","type":"quantitative","scale":{"domain":[0.5,7.37],"nice":false,"zero":false},"axis":{"values":[1,2,3,4,5,6,7],"tickCount":20,"title":"Cycle No."}},
     "y":{"field":"v","type":"quantitative","scale":{"domain":[0,1200],"nice":false},"axis":{"values":[0,250,500,750,1000],"tickCount":20,"title":"Rct/ohm"}},
     "stroke":{"field":"s","type":"nominal","scale":{"domain":["Si-PAA","Si-PANI","Si-PPy"],"range":["#5a8a1e","#4a68f0","#f05060"]},"legend":{"legendX":185.3,"legendY":10.4,"symbolType":"M-3.83,0H3.83","symbolSize":36,"symbolStrokeWidth":1.5,"labelFontWeight":"bold","labelOffset":12.7,"rowPadding":1.1}}}},
   {"data":{"name":"g"},"mark":{"type":"point","filled":true,"opacity":1,"size":28},
    "encoding":{
     "x":{"field":"c","type":"quantitative"},
     "y":{"field":"v","type":"quantitative"},
     "color":{"field":"s","type":"nominal","scale":{"range":["#4e7e18","#1a3ce8","#f0141e"]},"legend":{"legendX":186.6,"legendY":10.4,"symbolSize":28,"labelFontWeight":"bold","labelExpr":"''","rowPadding":1.1}},
     "shape":{"field":"s","type":"nominal","scale":{"range":["square","triangle-up","circle"]},"legend":{"legendX":186.6,"legendY":10.4,"symbolSize":28,"labelFontWeight":"bold","labelExpr":"''","rowPadding":1.1}}}}
  ]}
]}
]
}
